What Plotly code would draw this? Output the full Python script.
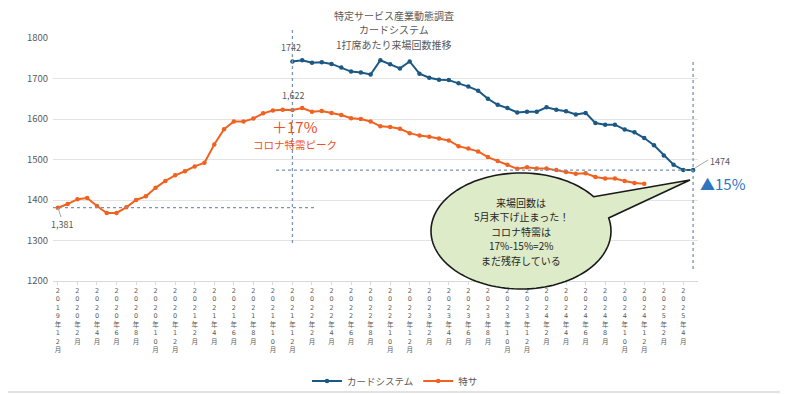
import numpy as np
import plotly.graph_objects as go

# ---------------- data ----------------
months = []
y, m = 2019, 12
for _ in range(66):
    months.append(f"{y}-{m:02d}")
    m += 1
    if m > 12:
        m = 1
        y += 1

tokusa_values = [1381, 1390, 1402, 1405, 1385, 1368, 1368, 1382, 1400, 1409,
                 1430, 1447, 1461, 1471, 1483, 1492, 1537, 1575, 1594, 1594,
                 1601, 1614, 1621, 1623, 1622, 1627, 1618, 1620, 1615, 1610,
                 1602, 1600, 1594, 1582, 1580, 1576, 1565, 1559, 1556, 1552,
                 1547, 1533, 1527, 1520, 1506, 1496, 1487, 1477, 1481, 1478,
                 1478, 1474, 1469, 1465, 1466, 1457, 1453, 1453, 1447, 1442,
                 1440]
card_start = "2021-12"
card_values = [1742, 1745, 1739, 1740, 1736, 1727, 1717, 1715, 1710, 1745,
               1735, 1725, 1742, 1712, 1702, 1697, 1696, 1688, 1680, 1670,
               1650, 1635, 1627, 1616, 1618, 1618, 1629, 1623, 1619, 1611,
               1615, 1590, 1586, 1586, 1574, 1567, 1553, 1535, 1510, 1487,
               1474, 1474]

tokusa_x = months[:len(tokusa_values)]
ci = months.index(card_start)
card_x = months[ci:ci + len(card_values)]

tick_vals = months[::2]
def stack(label):
    yy, mm = label.split("-")
    s = f"{yy}年{int(mm)}月"
    return "<br>".join(list(s))
tick_text = [stack(t) for t in tick_vals]

title_lines = ["特定サービス産業動態調査", "カードシステム", "1打席あたり来場回数推移"]
callout_lines = ["来場回数は", "5月末下げ止まった！", "コロナ特需は", "17%-15%=2%", "まだ残存している"]

# ---------------- layout helpers ----------------
# page body has an 8px margin, so the figure is offset by 8px in the window
OFF = 8
W, H = 788 - OFF, 394 - OFF
PL, PR, PT, PB = 53, 698, 38, 281          # plot area in window pixels
def px(x):
    return (x - PL) / (PR - PL)
def py(y):
    return (PB - y) / (PB - PT)

FONT = "Noto Sans CJK JP, Noto Sans, sans-serif"
BLUE = "#1b5883"
ORANGE = "#f0621f"
GREY = "#595959"
DOT = "#7b93b3"

fig = go.Figure()
fig.add_trace(go.Scatter(x=card_x, y=card_values, name="カードシステム",
                         mode="lines+markers",
                         line=dict(color=BLUE, width=2),
                         marker=dict(color=BLUE, size=4.5)))
fig.add_trace(go.Scatter(x=tokusa_x, y=tokusa_values, name="特サ",
                         mode="lines+markers",
                         line=dict(color=ORANGE, width=2),
                         marker=dict(color=ORANGE, size=4.5)))

shapes = []
# frame (right and bottom edges visible in the window)
shapes.append(dict(type="line", xref="paper", yref="paper",
                   x0=px(785), x1=px(785), y0=py(8), y1=py(392),
                   line=dict(color="#d9d9d9", width=1.5), layer="below"))
shapes.append(dict(type="line", xref="paper", yref="paper",
                   x0=px(8), x1=px(785), y0=py(392), y1=py(392),
                   line=dict(color="#d9d9d9", width=1.5), layer="below"))
# vertical dotted lines
shapes.append(dict(type="line", xref="x", yref="paper", x0=card_start, x1=card_start,
                   y0=py(30), y1=py(243), line=dict(color=DOT, width=1.3, dash="dot")))
shapes.append(dict(type="line", xref="x", yref="paper", x0=months[65], x1=months[65],
                   y0=py(62), y1=py(272), line=dict(color=DOT, width=1.3, dash="dot")))
# horizontal dotted lines
shapes.append(dict(type="line", xref="paper", yref="y", x0=0, x1=px(316),
                   y0=tokusa_values[0], y1=tokusa_values[0],
                   line=dict(color=DOT, width=1.3, dash="dot")))
shapes.append(dict(type="line", xref="paper", yref="y", x0=px(276), x1=px(694),
                   y0=card_values[-1], y1=card_values[-1],
                   line=dict(color=DOT, width=1.3, dash="dot")))
# leader lines
shapes.append(dict(type="line", xref="paper", yref="paper", x0=px(58), y0=py(208),
                   x1=px(61), y1=py(217), line=dict(color="#a6a6a6", width=1)))
shapes.append(dict(type="line", xref="paper", yref="paper", x0=px(695), y0=py(168),
                   x1=px(708), y1=py(160), line=dict(color="#a6a6a6", width=1)))

# callout balloon (ellipse + tail)
cx, cy, rx, ry = 521, 231, 90, 58
t1 = np.arctan2(34 / ry, 72 / rx)
t2 = np.arctan2(13 / ry, 87 / rx)
tip = (690, 180)
ts = np.linspace(t2, t1 - 2 * np.pi, 120)
pts = [(cx + rx * np.cos(t1), cy - ry * np.sin(t1)), tip]
pts += [(cx + rx * np.cos(t), cy - ry * np.sin(t)) for t in ts]
path = "M " + " L ".join(f"{px(a):.5f},{py(b):.5f}" for a, b in pts) + " Z"
shapes.append(dict(type="path", xref="paper", yref="paper", path=path,
                   fillcolor="#ddebc8", line=dict(color="#1a1a1a", width=1.6),
                   layer="above"))

annotations = []
def ann(text, x, y, size, color, xanchor="center"):
    annotations.append(dict(text=text, xref="paper", yref="paper", x=px(x), y=py(y),
                            showarrow=False, xanchor=xanchor, yanchor="middle",
                            borderpad=0, borderwidth=0,
                            font=dict(size=size, color=color, family=FONT)))

for i, line in enumerate(title_lines):
    ann(line, 394, 15.5 + 14.5 * i, 10, GREY)
ann("1742", 291, 47, 9, GREY)
ann("1,622", 293, 95, 9, GREY)
ann("1,381", 62, 224, 9, GREY)
ann("1474", 720, 161, 9, GREY)
ann("＋17%", 295, 126, 15, "#ee4e2a")
ann("コロナ特需ピーク", 295, 144, 10.5, "#ee4e2a")
ann("▲15%", 723, 183, 15, "#2f74c0")
for i, line in enumerate(callout_lines):
    ann(line, 521, 202 + 14.5 * i, 10, "#262626")

fig.update_layout(
    width=W, height=H,
    margin=dict(l=PL - OFF, r=W - (PR - OFF), t=PT - OFF, b=H - (PB - OFF), autoexpand=False),
    paper_bgcolor="white", plot_bgcolor="white",
    font=dict(family=FONT, color=GREY),
    showlegend=True,
    legend=dict(orientation="h", x=px(395), xanchor="center", y=py(381), yanchor="middle",
                font=dict(size=9.5, color=GREY, family=FONT), itemwidth=30,
                bgcolor="rgba(0,0,0,0)"),
    hovermode=False,
    shapes=shapes,
    annotations=annotations,
)
fig.update_xaxes(type="category", categoryorder="array", categoryarray=months,
                 range=[-0.5, 65.5], tickmode="array", tickvals=tick_vals, ticktext=tick_text,
                 tickangle=0, tickfont=dict(size=6.5, color=GREY, family="DejaVu Sans, Noto Sans CJK JP"),
                 showgrid=False, showline=True, linecolor="#d9d9d9", linewidth=1,
                 ticks="outside", ticklen=3, tickcolor="#d9d9d9", zeroline=False,
                 automargin=False)
fig.update_yaxes(range=[1200, 1800], dtick=100, showgrid=True, gridcolor="#e3e3e3",
                 gridwidth=1, tickfont=dict(size=9.5, color=GREY, family=FONT),
                 zeroline=False, showline=False, ticks="", ticklabelstandoff=4,
                 automargin=False)

fig.write_html("out.html")
